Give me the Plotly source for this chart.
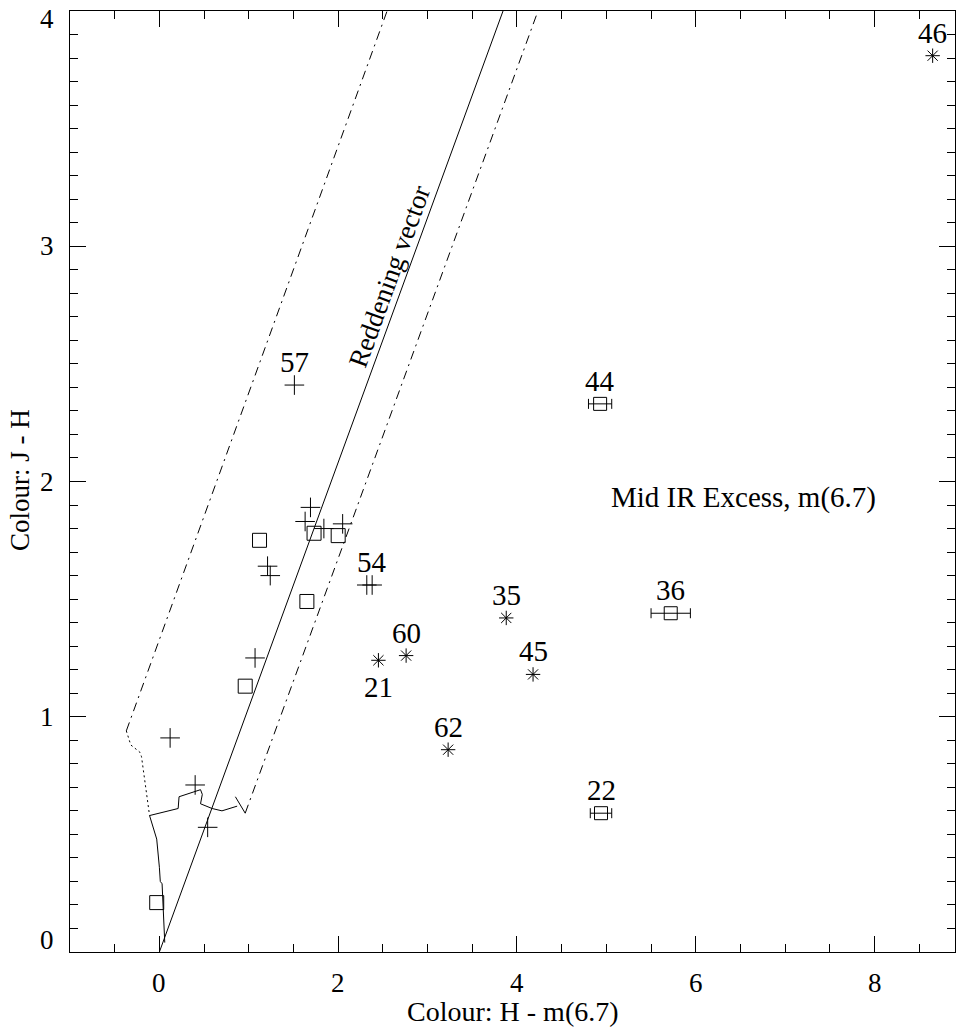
import plotly.graph_objects as go

# ---- data -------------------------------------------------------------
# sources without a mid-IR excess (plus symbols)
plus_x = [1.51, 1.69, 1.63, 1.84, 2.05, 1.21, 1.24, 2.32, 2.38, 1.07, 0.12, 0.40, 0.54]
plus_y = [2.41, 1.89, 1.83, 1.80, 1.82, 1.64, 1.60, 1.56, 1.56, 1.25, 0.91, 0.71, 0.53]
plus_lab = ["57", "", "", "", "", "", "", "", "54", "", "", "", ""]

# sources measured at 6.7 micron (squares)
sq_x = [1.12, 1.73, 2.00, 1.65, 0.96, -0.03]
sq_y = [1.75, 1.78, 1.77, 1.49, 1.13, 0.21]

# squares with an error in H - m(6.7)
sqe_x = [4.93, 5.72, 4.94]
sqe_y = [2.33, 1.44, 0.59]
sqe_err = [0.13, 0.22, 0.12]
sqe_lab = ["44", "36", "22"]

# mid-IR excess sources (asterisks)
ast_x = [8.65, 3.88, 2.76, 2.45, 4.18, 3.23]
ast_y = [3.81, 1.42, 1.26, 1.24, 1.18, 0.86]
ast_lab = ["46", "35", "60", "21", "45", "62"]
ast_below = [False, False, False, True, False, False]

# reddening vector and the band limits
red_x = [0.0, 3.844]
red_y = [0.0, 4.0]
band_left_x = [-0.37, 2.547]
band_left_y = [0.94, 4.0]
band_right_x = [0.96, 4.235]
band_right_y = [0.59, 4.0]

# intrinsic loci
giant_x = [-0.11, 0.21, 0.22, 0.40, 0.46, 0.48, 0.46, 0.59, 0.70, 0.87]
giant_y = [0.58, 0.61, 0.66, 0.68, 0.69, 0.67, 0.63, 0.61, 0.60, 0.62]
giant_tip_x = [0.85, 0.96]
giant_tip_y = [0.66, 0.59]
dwarf_x = [-0.11, -0.03, 0.00, 0.01, 0.03, 0.05, 0.06]
dwarf_y = [0.58, 0.48, 0.36, 0.30, 0.29, 0.16, 0.04]
edge_x = [-0.37, -0.32, -0.22, -0.20, -0.11]
edge_y = [0.94, 0.88, 0.85, 0.83, 0.58]

# axis tick labels
x_ticks = [0, 2, 4, 6, 8]
y_ticks = [0, 1, 2, 3, 4]

FONT = "Liberation Serif, Times New Roman, serif"
FS = 29      # horizontal text
FS_T = 27    # tick labels
FS_V = 27    # rotated text
INK = "black"

fig = go.Figure()

def line(x, y, dash="solid"):
    fig.add_trace(go.Scatter(x=x, y=y, mode="lines",
                             line=dict(color=INK, width=1, dash=dash),
                             hoverinfo="skip", showlegend=False))

line(red_x, red_y)
line(band_left_x, band_left_y, "9px,5px,2px,5px")
line(band_right_x, band_right_y, "9px,5px,2px,5px")
line(edge_x, edge_y, "2px,3px")
line(giant_x, giant_y)
line(giant_tip_x, giant_tip_y)
line(dwarf_x, dwarf_y)

fig.add_trace(go.Scatter(
    x=plus_x, y=plus_y, mode="markers",
    marker=dict(symbol="cross-thin", size=14, line=dict(color=INK, width=1)),
    showlegend=False))

fig.add_trace(go.Scatter(
    x=sq_x, y=sq_y, mode="markers",
    marker=dict(symbol="square-open", size=14, color=INK, line=dict(width=1)),
    showlegend=False))

fig.add_trace(go.Scatter(
    x=sqe_x, y=sqe_y, mode="markers",
    marker=dict(symbol="square-open", size=13, color=INK, line=dict(width=1)),
    error_x=dict(type="data", array=sqe_err, color=INK, thickness=1, width=5),
    showlegend=False))

fig.add_trace(go.Scatter(
    x=ast_x, y=ast_y, mode="markers",
    marker=dict(symbol="asterisk", size=12, line=dict(color=INK, width=1)),
    showlegend=False))

txt = dict(family=FONT, size=FS, color=INK)
tick_txt = dict(family=FONT, size=FS_T, color=INK)

# source numbers
def label(x, y, t, below=False):
    if not t:
        return
    fig.add_annotation(x=x, y=y, text=t, showarrow=False,
                       yshift=-27 if below else 23, font=txt)

for x, y, t in zip(plus_x, plus_y, plus_lab):
    label(x, y, t)
for x, y, t in zip(sqe_x, sqe_y, sqe_lab):
    label(x, y, t)
for x, y, t, b in zip(ast_x, ast_y, ast_lab, ast_below):
    label(x, y, t, b)

fig.add_annotation(x=2.57, y=2.87, text="Reddening vector", showarrow=False,
                   textangle=-70, font=dict(family=FONT, size=FS_V, color=INK))
fig.add_annotation(x=6.53, y=1.93, text="Mid IR Excess, m(6.7)", showarrow=False,
                   font=txt)

# tick labels
for v in x_ticks:
    fig.add_annotation(x=v, y=0, xref="x", yref="paper", text=str(v),
                       showarrow=False, yanchor="middle", yshift=-31, font=tick_txt)
for v in y_ticks:
    shift = 12 if v == y_ticks[0] else (-8 if v == y_ticks[-1] else 0)
    fig.add_annotation(x=0, y=v, xref="paper", yref="y", text=str(v),
                       showarrow=False, xanchor="right", xshift=-14,
                       yshift=shift, font=tick_txt)

# axis titles
fig.add_annotation(x=0.5006, y=0, xref="paper", yref="paper",
                   text="Colour: H - m(6.7)", showarrow=False,
                   yanchor="middle", yshift=-59,
                   font=dict(family=FONT, size=28, color=INK))
fig.add_annotation(x=0, y=0.5016, xref="paper", yref="paper",
                   text="Colour: J - H", showarrow=False, textangle=-90,
                   xanchor="center", xshift=-50,
                   font=dict(family=FONT, size=FS_V, color=INK))

axis_common = dict(showline=True, linecolor=INK, linewidth=1, mirror="allticks",
                   ticks="inside", ticklen=16, tickcolor=INK, tickwidth=1,
                   showgrid=False, zeroline=False, showticklabels=False)

fig.update_layout(
    width=956, height=1028,
    margin=dict(l=70, r=1, t=11, b=76),
    paper_bgcolor="white", plot_bgcolor="white",
    xaxis=dict(range=[-1, 8.9], tick0=0, dtick=2,
               minor=dict(dtick=0.5, tick0=0, ticks="inside", ticklen=8, tickcolor=INK),
               **axis_common),
    yaxis=dict(range=[0, 4], tick0=0, dtick=1,
               minor=dict(dtick=0.1, tick0=0, ticks="inside", ticklen=8, tickcolor=INK),
               **axis_common),
)

fig.write_html("out.html")
